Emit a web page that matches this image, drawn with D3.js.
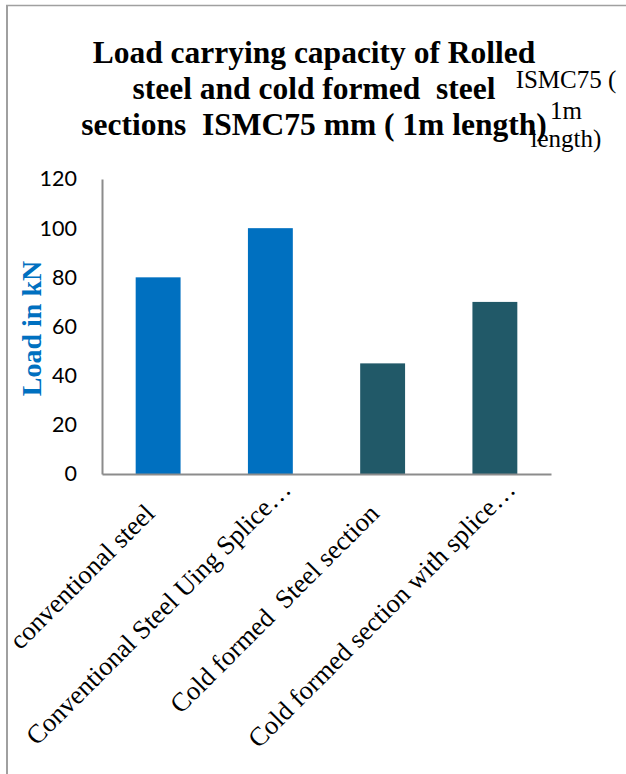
<!DOCTYPE html>
<html><head><meta charset="utf-8">
<script src="https://cdn.jsdelivr.net/npm/d3@7"></script>
<style>
body{margin:0;background:#fff}
svg{display:block}
text{white-space:pre}
</style>
</head><body>
<script>
// ---- data ----
const categories = ["conventional steel", "Conventional Steel Uing Splice…", "Cold formed  Steel section", "Cold formed section with splice…"];
const loads = [80, 100, 45, 70];
const barColors = ["#0070C0", "#0070C0", "#215968", "#215968"];
const yTicks = [0, 20, 40, 60, 80, 100, 120];
const titleLines = ["Load carrying capacity of Rolled", "steel and cold formed  steel", "sections  ISMC75 mm ( 1m length)"];
const sideNote = ["ISMC75 (", "1m", "length)"];
const yLabel = "Load in kN";

// ---- layout ----
const W = 626, H = 774;
const svg = d3.select("body").append("svg").attr("width", W).attr("height", H);

// frame
svg.append("line").attr("x1", 7).attr("x2", 7).attr("y1", 5).attr("y2", H).attr("stroke", "#a0a0a0").attr("stroke-width", 2);
svg.append("line").attr("x1", 6).attr("x2", W).attr("y1", 5.5).attr("y2", 5.5).attr("stroke", "#a0a0a0").attr("stroke-width", 1.5);

const x = d3.scaleBand().domain(categories).range([102, 551]).paddingInner(0.6).paddingOuter(0.3);
const y = d3.scaleLinear().domain([0, 120]).range([474, 179]);

// bars
svg.append("g").selectAll("rect").data(categories).join("rect")
  .attr("x", d => x(d))
  .attr("width", x.bandwidth())
  .attr("y", (d, i) => y(loads[i]))
  .attr("height", (d, i) => y(0) - y(loads[i]))
  .attr("fill", (d, i) => barColors[i]);

// y axis
const yAxis = svg.append("g").attr("transform", "translate(102,0)")
  .call(d3.axisLeft(y).tickValues(yTicks).tickSize(0).tickPadding(25).tickFormat(d3.format("d")));
yAxis.select(".domain").attr("stroke", "#8c8c8c").attr("stroke-width", 2);
yAxis.selectAll("text").attr("font-family", "Lato, 'Open Sans', sans-serif").attr("font-size", 21.5).attr("fill", "#000");

// x axis
const xAxis = svg.append("g").attr("transform", "translate(0,474)")
  .call(d3.axisBottom(x).tickSize(0).tickFormat(""));
xAxis.select(".domain").attr("stroke", "#8c8c8c").attr("stroke-width", 2);

// x labels (rotated)
svg.append("g").selectAll("text").data(categories).join("text")
  .attr("transform", d => {
    const cx = x(d) + x.bandwidth() / 2;
    const trunc = d.endsWith("…");
    return `translate(${cx + (trunc ? 22 : -2)},${trunc ? 491 : 515}) rotate(-45)`;
  })
  .attr("text-anchor", "end")
  .attr("font-family", "'Liberation Serif', 'Times New Roman', serif")
  .attr("font-size", 26.5)
  .attr("fill", "#000")
  .text(d => d);

// y label
svg.append("text")
  .attr("transform", "translate(41,328.5) rotate(-90)")
  .attr("text-anchor", "middle")
  .attr("font-family", "'Liberation Serif', 'Times New Roman', serif")
  .attr("font-weight", "bold")
  .attr("font-size", 28)
  .attr("fill", "#0070C0")
  .text(yLabel);

// title
const titleBase = [63, 99, 135];
svg.append("g").selectAll("text").data(titleLines).join("text")
  .attr("x", 314)
  .attr("y", (d, i) => titleBase[i])
  .attr("text-anchor", "middle")
  .attr("font-family", "'Liberation Serif', 'Times New Roman', serif")
  .attr("font-weight", "bold")
  .attr("font-size", 31.5)
  .attr("fill", "#000")
  .text(d => d);

// side note
const sideBase = [88, 119, 147];
svg.append("g").selectAll("text").data(sideNote).join("text")
  .attr("x", 566)
  .attr("y", (d, i) => sideBase[i])
  .attr("text-anchor", "middle")
  .attr("font-family", "'Liberation Serif', 'Times New Roman', serif")
  .attr("font-size", 25)
  .attr("fill", "#000")
  .text(d => d);
</script>
</body></html>
